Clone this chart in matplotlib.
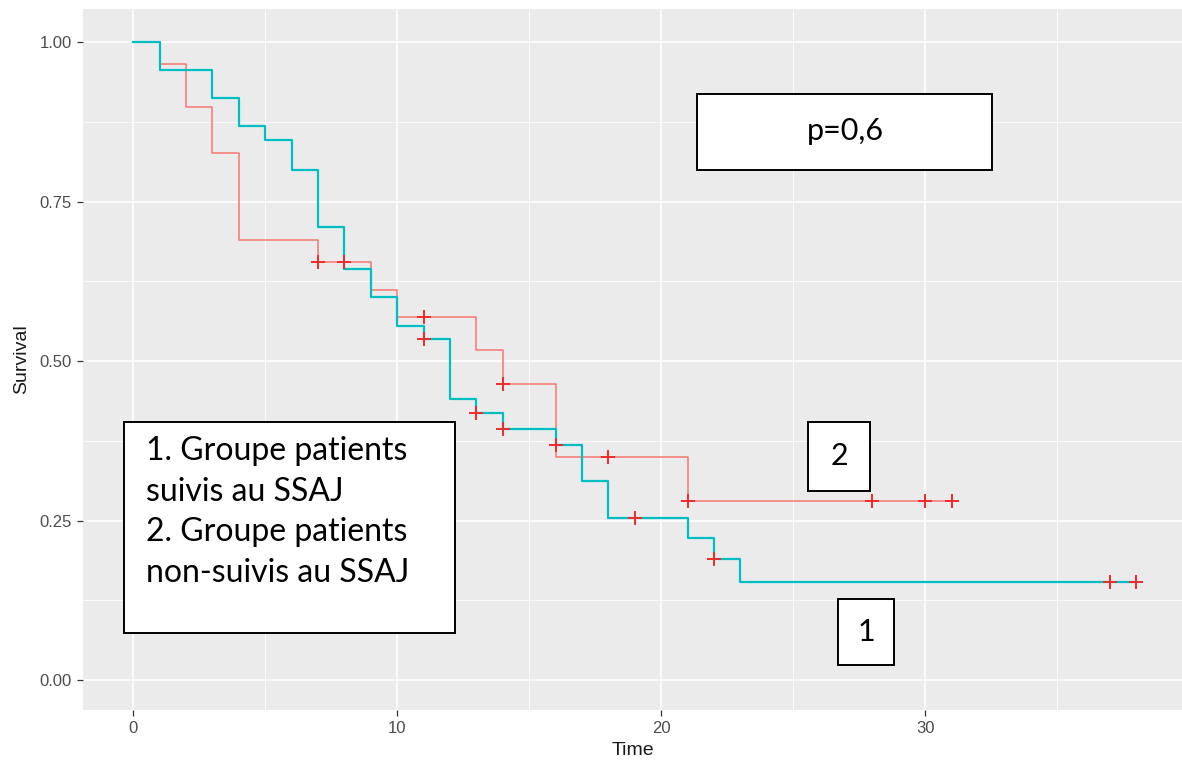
import matplotlib
matplotlib.use("Agg")
import matplotlib.pyplot as plt
from matplotlib.patches import Rectangle

# group curves (Kaplan-Meier steps)
teal_t = [0, 1, 3, 4, 5, 6, 7, 8, 9, 10, 11, 12, 13, 14, 16, 17, 18, 21, 22, 23, 38]
teal_s = [1.0, 0.957, 0.912, 0.868, 0.846, 0.800, 0.711, 0.644, 0.601, 0.555, 0.535,
          0.441, 0.418, 0.393, 0.368, 0.312, 0.254, 0.223, 0.190, 0.154, 0.154]
teal_cens_t = [11, 13, 14, 16, 19, 22, 37, 38]
teal_cens_s = [0.535, 0.418, 0.393, 0.368, 0.254, 0.190, 0.154, 0.154]

red_t = [0, 1, 2, 3, 4, 7, 9, 10, 13, 14, 16, 21, 31]
red_s = [1.0, 0.966, 0.898, 0.827, 0.690, 0.656, 0.612, 0.569, 0.517, 0.464, 0.350, 0.280, 0.280]
red_cens_t = [7, 8, 11, 14, 18, 21, 28, 30, 31]
red_cens_s = [0.656, 0.656, 0.569, 0.464, 0.350, 0.280, 0.280, 0.280, 0.280]

x_ticks = [0, 10, 20, 30]
y_ticks = [0.0, 0.25, 0.5, 0.75, 1.0]
y_ticklabels = ["0.00", "0.25", "0.50", "0.75", "1.00"]

plt.rcParams["font.family"] = ["Liberation Sans", "DejaVu Sans"]

W, H = 1182, 769
fig = plt.figure(figsize=(W / 100, H / 100), dpi=100)
ax = fig.add_axes([83 / W, (H - 710) / H, (W - 83) / W, (710 - 9) / H])
ax.set_facecolor("#EBEBEB")
for s in ax.spines.values():
    s.set_visible(False)

ax.set_xlim(-1.9, 39.73)
ax.set_ylim(-0.047, 1.052)
ax.set_xticks(x_ticks)
ax.set_xticks([5, 15, 25, 35], minor=True)
ax.set_yticks(y_ticks)
ax.set_yticklabels(y_ticklabels)
ax.set_yticks([0.125, 0.375, 0.625, 0.875], minor=True)
ax.grid(which="major", color="white", lw=1.2, zorder=0)
ax.grid(which="minor", color="white", lw=0.6, zorder=0)
ax.set_axisbelow(True)
ax.tick_params(which="major", length=4, width=0.9, color="#333333",
               labelcolor="#4D4D4D", labelsize=12, pad=4)
ax.tick_params(which="minor", length=0)

ax.step(red_t, red_s, where="post", color="#F8766D", lw=1.1, zorder=2)
ax.step(teal_t, teal_s, where="post", color="#00BFC4", lw=1.6, zorder=3)
ax.plot(red_cens_t, red_cens_s, ls="none", marker="+", ms=10, mew=1.4, color="#EE2B2B", zorder=4)
ax.plot(teal_cens_t, teal_cens_s, ls="none", marker="+", ms=10, mew=1.4, color="#EE2B2B", zorder=4)

ax.set_xlabel("Time", fontsize=14, color="#1A1A1A", labelpad=4)
ax.set_ylabel("Survival", fontsize=14, color="#1A1A1A", labelpad=7)


def px_x(p):
    return (p - 133) / 26.4


def px_y(p):
    return (680 - p) / 638


def box(x0, x1, y0, y1):
    r = Rectangle((px_x(x0), px_y(y1)), px_x(x1) - px_x(x0), px_y(y0) - px_y(y1),
                  facecolor="white", edgecolor="black", lw=1.4, zorder=5)
    ax.add_patch(r)


font = "Lato"
box(697, 992, 94, 170)
ax.text(px_x(845), px_y(131), "p=0,6", fontsize=22, family=font, ha="center", va="center", zorder=6)

box(124, 455, 422, 633)
ax.text(px_x(146), px_y(436),
        "1. Groupe patients\nsuivis au SSAJ\n2. Groupe patients\nnon-suivis au SSAJ",
        fontsize=23, family=font, ha="left", va="top", linespacing=1.44, zorder=6)

box(808, 870, 422, 491)
ax.text(px_x(839), px_y(456), "2", fontsize=22, family=font, ha="center", va="center", zorder=6)
box(838, 894, 599, 665)
ax.text(px_x(866), px_y(632), "1", fontsize=22, family=font, ha="center", va="center", zorder=6)

fig.savefig("out.png", dpi=100)
